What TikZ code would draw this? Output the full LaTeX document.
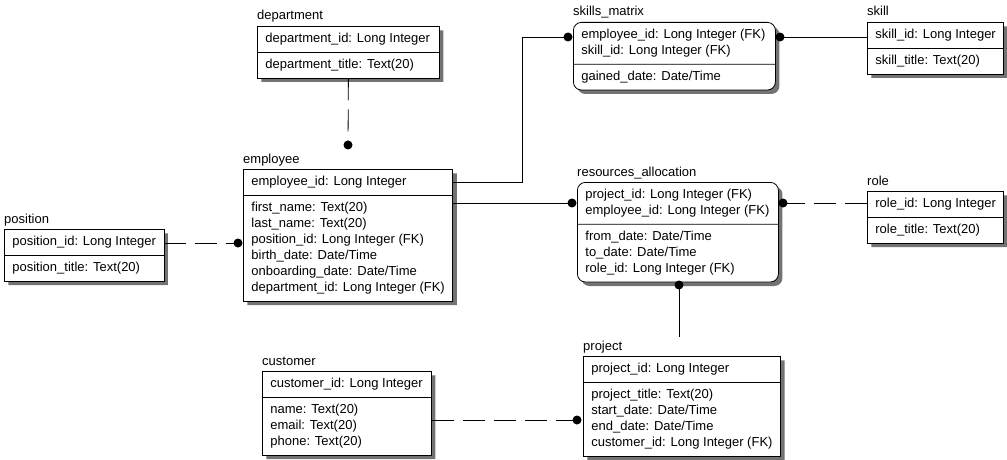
\documentclass[tikz,border=0pt]{standalone}
\usepackage{fontspec}
\setmainfont{Liberation Sans}
\usetikzlibrary{shapes.multipart,shadows}

\newcommand{\fld}{\rule[-4.5pt]{0pt}{16pt}}

\tikzset{
  entity/.style={rectangle split, rectangle split parts=2,
    rectangle split part align=left, draw, fill=white, line width=.8pt,
    minimum width=#1, anchor=north west, align=left,
    inner xsep=8pt, inner ysep=4.5pt, font=\fontsize{13}{16}\selectfont,
    drop shadow={shadow xshift=4pt,shadow yshift=-4pt,fill=black!55,opacity=1}},
  assoc/.style={entity=#1, rounded corners=8pt},
  ttl/.style={anchor=base west, inner sep=0pt, font=\fontsize{13}{16}\selectfont},
  rel/.style={line width=.8pt},
  fk/.style={rel, dash pattern=on 22pt off 9pt},
  dot/.style={circle, fill, inner sep=0pt, minimum size=9pt},
}

\begin{document}
\begin{tikzpicture}[x=1pt,y=-1pt]
\useasboundingbox (0,0) rectangle (1007,460);
% tables
\node[entity=182pt] (dept) at (257,26) {\fld department\_id: Long Integer
  \nodepart{two}\fld department\_title: Text(20)};
\node[entity=159pt] (pos) at (4,229) {\fld position\_id: Long Integer
  \nodepart{two}\fld position\_title: Text(20)};
\node[entity=209pt] (emp) at (243,169) {\fld employee\_id: Long Integer
  \nodepart{two}\fld first\_name: Text(20)\\\fld last\_name: Text(20)\\
  \fld position\_id: Long Integer (FK)\\\fld birth\_date: Date/Time\\
  \fld onboarding\_date: Date/Time\\\fld department\_id: Long Integer (FK)};
\node[assoc=202pt] (skm) at (573,22) {\fld employee\_id: Long Integer (FK)\\
  \fld skill\_id: Long Integer (FK)
  \nodepart{two}\fld gained\_date: Date/Time};
\node[entity=135pt] (skill) at (867,22) {\fld skill\_id: Long Integer
  \nodepart{two}\fld skill\_title: Text(20)};
\node[assoc=201pt] (ra) at (577,182) {\fld project\_id: Long Integer (FK)\\
  \fld employee\_id: Long Integer (FK)
  \nodepart{two}\fld from\_date: Date/Time\\\fld to\_date: Date/Time\\
  \fld role\_id: Long Integer (FK)};
\node[entity=136pt] (role) at (867,191) {\fld role\_id: Long Integer
  \nodepart{two}\fld role\_title: Text(20)};
\node[entity=194pt] (prj) at (583,356) {\fld project\_id: Long Integer
  \nodepart{two}\fld project\_title: Text(20)\\\fld start\_date: Date/Time\\
  \fld end\_date: Date/Time\\\fld customer\_id: Long Integer (FK)};
\node[entity=169pt] (cust) at (262,371) {\fld customer\_id: Long Integer
  \nodepart{two}\fld name: Text(20)\\\fld email: Text(20)\\\fld phone: Text(20)};
% titles
\node[ttl] (dept-t) at ([yshift=6pt]dept.north west) {department};
\node[ttl] (pos-t) at ([yshift=6pt]pos.north west) {position};
\node[ttl] (emp-t) at ([yshift=6pt]emp.north west) {employee};
\node[ttl] (skm-t) at ([yshift=6pt]skm.north west) {skills\_matrix};
\node[ttl] (skill-t) at ([yshift=6pt]skill.north west) {skill};
\node[ttl] (ra-t) at ([yshift=6pt]ra.north west) {resources\_allocation};
\node[ttl] (role-t) at ([yshift=6pt]role.north west) {role};
\node[ttl] (prj-t) at ([yshift=6pt]prj.north west) {project};
\node[ttl] (cust-t) at ([yshift=6pt]cust.north west) {customer};
%
\coordinate (dept-e) at (348,145);
\coordinate (emp-l) at (238,243);
\coordinate (bend) at (522,182);
\coordinate (skm-l) at (568,37);
\coordinate (skm-r) at (780,37);
\coordinate (ra-l) at (572,203);
\coordinate (ra-r) at (783,203);
\coordinate (ra-b) at (679,285);
\coordinate (prj-top) at (679,337);
\coordinate (prj-l) at (577,420);
% relations
\draw[fk] (dept.south) -- (dept-e) node[dot] {};
\draw[fk] (emp-l -| pos.east) -- (emp-l) node[dot] {};
\draw[rel] (bend -| emp.east) -- (bend) |- (skm-l) node[dot] {};
\draw[rel] (skm-r) node[dot] {} -- (skm-r -| skill.west);
\draw[rel] (ra-l -| emp.east) -- (ra-l) node[dot] {};
\draw[fk] (ra-r) node[dot] {} -- (ra-r -| role.west);
\draw[rel] (ra-b) node[dot] {} -- (prj-top);
\draw[fk] (prj-l -| cust.east) -- (prj-l) node[dot] {};
\end{tikzpicture}
\end{document}
